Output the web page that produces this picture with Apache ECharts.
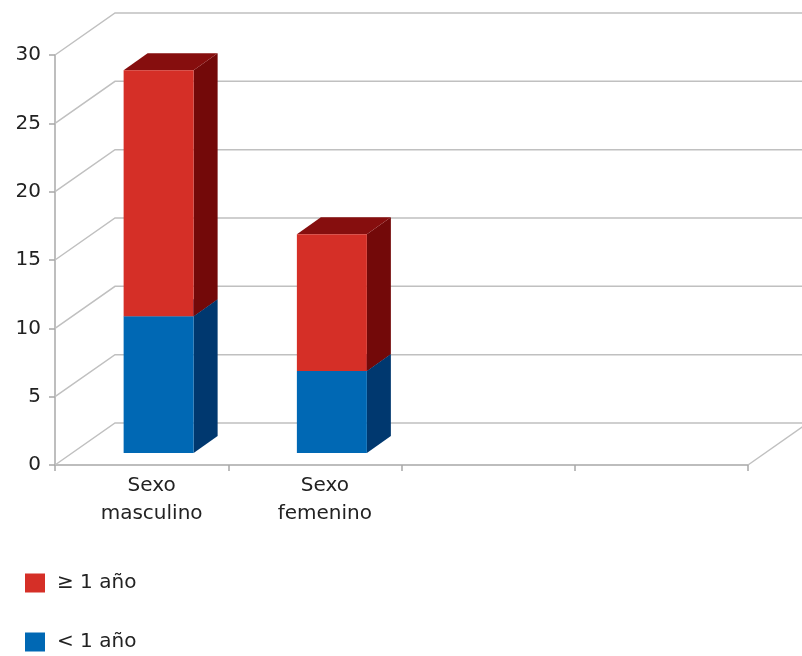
<!DOCTYPE html>
<html>
<head>
<meta charset="utf-8">
<script src="https://cdn.jsdelivr.net/npm/echarts@6/dist/echarts.min.js"></script>
<style>
html,body{margin:0;padding:0;background:#fff;}
#chart{width:802px;height:656px;}
</style>
</head>
<body>
<div id="chart"></div>
<script>
// ---- data ----
var categories = ['Sexo\nmasculino', 'Sexo\nfemenino', '', ''];
var lessThanOneYear = [10, 6, null, null];      // "< 1 año"
var oneYearOrMore = [18, 10, null, null];       // "≥ 1 año"
var yTicks = [0, 5, 10, 15, 20, 25, 30];
var seriesNames = ['< 1 año', '≥ 1 año'];

// ---- 3D styling (pixel offsets) ----
var WALL_DX = 60, WALL_DY = -42;   // depth of back wall
var BAR_DXF = 17, BAR_DYF = -12;   // bar front plane offset
var BAR_DX = 24, BAR_DY = -17;     // bar depth
var BAR_FRAC = 0.404;
var FONT = 'DejaVu Sans';

function stackData(values, base) {
  var out = [];
  values.forEach(function (v, i) {
    if (v == null) return;
    var b = base ? (base[i] || 0) : 0;
    out.push([i, b, b + v]);
  });
  return out;
}

function barRender(front, side, top) {
  return function (params, api) {
    var i = api.value(0), v0 = api.value(1), v1 = api.value(2);
    var catW = api.size([1, 0])[0];
    var c = api.coord([i, v0]);
    var yTop = api.coord([i, v1])[1] + BAR_DYF;
    var yBot = c[1] + BAR_DYF;
    var w = catW * BAR_FRAC;
    var x0 = c[0] + BAR_DXF - w / 2, x1 = x0 + w;
    return {
      type: 'group',
      children: [
        { type: 'polygon', shape: { points: [[x1, yBot], [x1 + BAR_DX, yBot + BAR_DY], [x1 + BAR_DX, yTop + BAR_DY], [x1, yTop]] }, style: { fill: side } },
        { type: 'polygon', shape: { points: [[x0, yTop], [x0 + BAR_DX, yTop + BAR_DY], [x1 + BAR_DX, yTop + BAR_DY], [x1, yTop]] }, style: { fill: top } },
        { type: 'rect', shape: { x: x0, y: yTop, width: w, height: yBot - yTop }, style: { fill: front } }
      ]
    };
  };
}

function wallRender(params, api) {
  var cs = params.coordSys;
  var v = api.value(1);
  var y = api.coord([0, v])[1];
  var xa = cs.x, xb = cs.x + cs.width;
  var children = [
    { type: 'polyline', shape: { points: [[xa, y], [xa + WALL_DX, y + WALL_DY], [xb + WALL_DX, y + WALL_DY]] }, style: { stroke: '#c0c0c0', lineWidth: 1.5, fill: null } }
  ];
  if (v === yTicks[0]) {
    children.push({ type: 'line', shape: { x1: xb, y1: y, x2: xb + WALL_DX, y2: y + WALL_DY }, style: { stroke: '#c0c0c0', lineWidth: 1.5 } });
  }
  return { type: 'group', children: children };
}

var legendBase = {
  left: 25,
  padding: 0,
  itemWidth: 20,
  itemHeight: 19,
  icon: 'rect',
  textStyle: { fontFamily: FONT, fontSize: 20, color: '#222', padding: [0, 0, 0, 7] }
};

var chart = echarts.init(document.getElementById('chart'), null, { renderer: 'canvas' });
chart.setOption({
  animation: false,
  backgroundColor: '#ffffff',
  textStyle: { fontFamily: FONT },
  grid: { left: 55, right: 54, top: 55, bottom: 191, containLabel: false },
  legend: [
    Object.assign({}, legendBase, { top: 573, data: [seriesNames[1]] }),
    Object.assign({}, legendBase, { top: 632, data: [seriesNames[0]] })
  ],
  xAxis: {
    type: 'category',
    data: categories,
    axisLine: { show: true, lineStyle: { color: '#a8a8a8', width: 1.5 } },
    axisTick: { show: true, length: 6, lineStyle: { color: '#a8a8a8', width: 1.5 } },
    axisLabel: { fontFamily: FONT, fontSize: 20, color: '#222', lineHeight: 28, margin: 7, padding: [0, 0, 0, 20], interval: 0 },
    splitLine: { show: false }
  },
  yAxis: {
    type: 'value',
    min: 0,
    max: 30,
    interval: 5,
    axisLine: { show: true, lineStyle: { color: '#a8a8a8', width: 1.5 } },
    axisTick: { show: true, length: 6, lineStyle: { color: '#a8a8a8', width: 1.5 } },
    axisLabel: { fontFamily: FONT, fontSize: 20, color: '#222', margin: 14 },
    splitLine: { show: false }
  },
  series: [
    {
      type: 'custom',
      name: 'wall',
      z: 1,
      silent: true,
      renderItem: wallRender,
      encode: { x: 0, y: 1 },
      data: yTicks.map(function (v) { return [0, v]; })
    },
    {
      type: 'custom',
      name: seriesNames[0],
      z: 3,
      itemStyle: { color: '#0068b4' },
      renderItem: barRender('#0068b4', '#00386f', '#004a8c'),
      encode: { x: 0, y: [1, 2] },
      data: stackData(lessThanOneYear, null)
    },
    {
      type: 'custom',
      name: seriesNames[1],
      z: 4,
      itemStyle: { color: '#d52f27' },
      renderItem: barRender('#d52f27', '#730909', '#860e0e'),
      encode: { x: 0, y: [1, 2] },
      data: stackData(oneYearOrMore, lessThanOneYear)
    }
  ]
});
</script>
</body>
</html>
